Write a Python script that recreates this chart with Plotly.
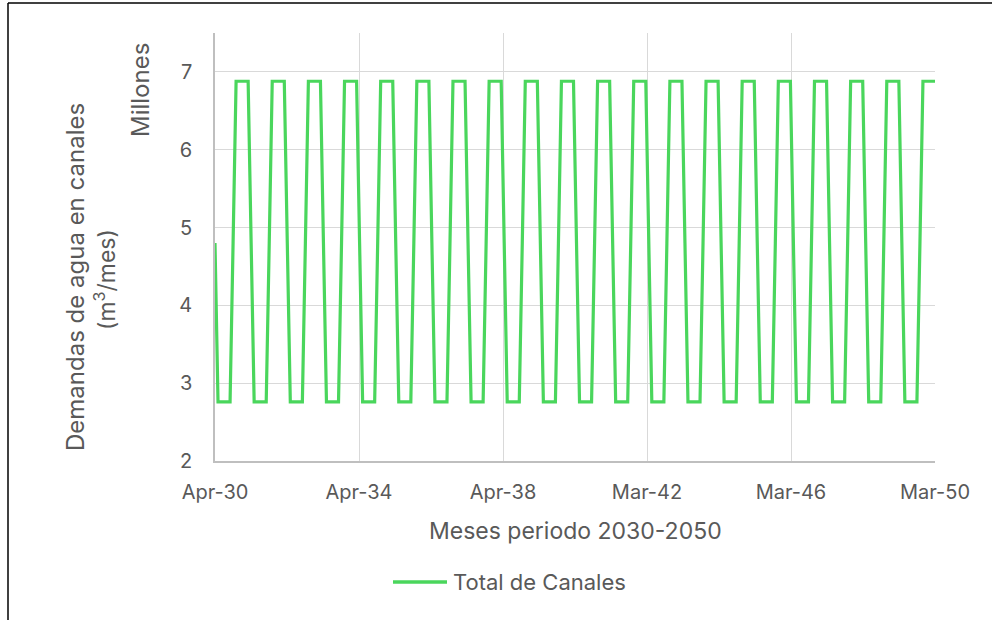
import plotly.graph_objects as go

GREEN = "#4ad65c"
TEXT = "#595959"
GRID = "#d9d9d9"
AXIS = "#bfbfbf"
FONT = "Inter"

# monthly water demand in canals (millions m3/month), Apr..Mar, same every year
meses_ciclo = ["Apr", "May", "Jun", "Jul", "Aug", "Sep", "Oct", "Nov", "Dec", "Jan", "Feb", "Mar"]
demanda_ciclo = [4.80, 2.76, 2.76, 2.76, 2.76, 2.76, 4.80, 6.88, 6.88, 6.88, 6.88, 6.88]
anios = 20
serie = "Total de Canales"

demanda = demanda_ciclo * anios
mes_idx = list(range(len(demanda)))

tick_pos = [0, 47.8, 95.6, 143.4, 191.2, 239]
tick_lbl = ["Apr-30", "Apr-34", "Apr-38", "Mar-42", "Mar-46", "Mar-50"]
y_ticks = [2, 3, 4, 5, 6, 7]

# plot area in pixels: x 215..935, y 33..461
L, R, T, B = 215, 57, 33, 159
W, H = 992, 620
pw, ph = W - L - R, H - T - B


def px(x):
    return (x - L) / pw


def py(y):
    return (H - B - y) / ph


fig = go.Figure()
fig.add_trace(go.Scatter(
    x=mes_idx, y=demanda, mode="lines", name=serie,
    line=dict(color=GREEN, width=3.2), cliponaxis=False, showlegend=False
))

fig.update_layout(
    width=W, height=H,
    margin=dict(l=L, r=R, t=T, b=B),
    plot_bgcolor="white", paper_bgcolor="white",
    font=dict(family=FONT, color=TEXT, size=20),
    xaxis=dict(range=[0, 239], tickvals=tick_pos, ticktext=tick_lbl, showgrid=True,
               gridcolor=GRID, gridwidth=1, showline=True, linecolor=AXIS, linewidth=1.5,
               zeroline=False, ticks="", ticklabelstandoff=12),
    yaxis=dict(range=[2, 7.5], tickvals=y_ticks, showgrid=True, gridcolor=GRID, gridwidth=1,
               showline=True, linecolor=AXIS, linewidth=1.5, zeroline=False, ticks="",
               ticklabelstandoff=17),
)

ann = [
    ("Meses periodo 2030-2050", 575, 531, 0, 23, "center"),
    ("Demandas de agua en canales", 75, 277, -90, 24, "center"),
    ("(m<sup>3</sup>/mes)", 105, 279, -90, 23, "center"),
    ("Millones", 140, 90, -90, 24, "center"),
    (serie, 451, 582, 0, 22, "left"),
]
for text, x, y, ang, size, xa in ann:
    fig.add_annotation(text=text, xref="paper", yref="paper", x=px(x), y=py(y),
                       xanchor=xa, yanchor="middle", textangle=ang, showarrow=False,
                       font=dict(size=size, color=TEXT, family=FONT))

# legend key line
fig.add_shape(type="line", xref="paper", yref="paper", x0=px(393), x1=px(447), y0=py(582), y1=py(582),
              line=dict(color=GREEN, width=3.5))

# outer chart border (left and top visible)
fig.add_shape(type="line", xref="paper", yref="paper", x0=px(8), x1=px(8), y0=py(3), y1=py(640),
              line=dict(color="black", width=1.5))
fig.add_shape(type="line", xref="paper", yref="paper", x0=px(8), x1=px(1000), y0=py(3), y1=py(3),
              line=dict(color="black", width=1.5))

fig.write_html("out.html", config={"displayModeBar": False},
               post_script="document.body.style.margin='0';")
